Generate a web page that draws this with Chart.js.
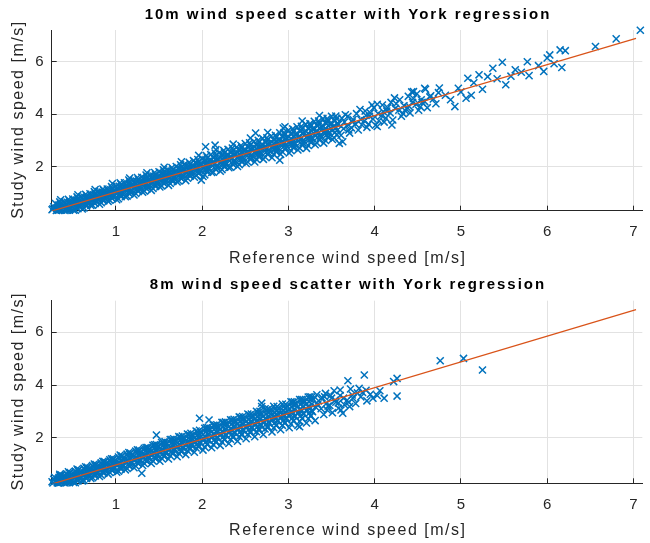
<!DOCTYPE html>
<html>
<head>
<meta charset="utf-8">
<title>Wind speed scatter with York regression</title>
<script src="https://cdn.jsdelivr.net/npm/chart.js@4.4.1/dist/chart.umd.min.js"></script>
<style>
  body { margin: 0; background: #fff; }
  canvas { position: absolute; left: 0; }
  #chart10m { top: 0; }
  #chart8m { top: 270px; }
</style>
</head>
<body>
<canvas id="chart10m" width="650" height="270"></canvas>
<canvas id="chart8m" width="650" height="273"></canvas>
<script>
'use strict';

var xTicks = [1, 2, 3, 4, 5, 6, 7];
var yTicks = [2, 4, 6];
var xLimits = [0.256, 7.103];
var yLimits10m = [0.324, 7.208];
var yLimits8m = [0.27, 7.199];

// York regression line end points (reference x, study y)
var fitX = [0.256, 7.03];
var fit10m = [0.31, 6.89];
var fit8m = [0.24, 6.86];

// [reference, study] pairs (edges and stray points)
var pts10m = [
  [0.31,0.33],[0.27,0.40],[0.34,0.36],[0.28,0.47],[0.33,0.52],[0.30,0.60],[0.26,0.36],[0.32,0.44],
  [0.41,0.33],[0.37,0.35],[0.44,0.42],[0.38,0.50],[0.43,0.58],[0.40,0.66],[0.36,0.74],[0.42,0.40],
  [0.51,0.34],[0.47,0.45],[0.54,0.53],[0.48,0.61],[0.53,0.68],[0.50,0.77],[0.46,0.40],[0.52,0.58],
  [0.61,0.39],[0.57,0.50],[0.64,0.59],[0.58,0.70],[0.63,0.77],[0.60,0.85],[0.56,0.93],[0.62,0.62],
  [0.71,0.52],[0.67,0.62],[0.74,0.73],[0.68,0.81],[0.73,0.89],[0.70,0.97],[0.66,0.55],[0.72,0.79],
  [0.81,0.57],[0.77,0.68],[0.84,0.79],[0.78,0.90],[0.83,0.97],[0.80,1.05],[0.76,1.13],[0.82,0.82],
  [0.91,0.68],[0.87,0.80],[0.94,0.91],[0.88,0.99],[0.93,1.07],[0.90,1.15],[0.86,0.75],[0.92,0.98],
  [1.01,0.74],[0.97,0.86],[1.04,0.96],[0.98,1.10],[1.03,1.17],[1.00,1.26],[0.96,1.36],[1.02,1.01],
  [1.11,0.86],[1.07,0.99],[1.14,1.11],[1.08,1.20],[1.13,1.29],[1.10,1.39],[1.06,0.92],[1.12,1.19],
  [1.21,0.92],[1.17,1.02],[1.24,1.15],[1.18,1.30],[1.23,1.38],[1.20,1.47],[1.16,1.57],[1.22,1.21],
  [1.31,1.03],[1.27,1.18],[1.34,1.30],[1.28,1.40],[1.33,1.50],[1.30,1.60],[1.26,1.10],[1.32,1.38],
  [1.41,1.10],[1.37,1.21],[1.44,1.34],[1.38,1.49],[1.43,1.57],[1.40,1.67],[1.36,1.77],[1.42,1.40],
  [1.51,1.23],[1.47,1.38],[1.54,1.50],[1.48,1.61],[1.53,1.71],[1.50,1.81],[1.46,1.30],[1.52,1.58],
  [1.61,1.29],[1.57,1.41],[1.64,1.54],[1.58,1.69],[1.63,1.77],[1.60,1.87],[1.56,1.98],[1.62,1.60],
  [1.71,1.42],[1.67,1.57],[1.74,1.69],[1.68,1.81],[1.73,1.91],[1.70,2.01],[1.66,1.49],[1.72,1.77],
  [1.81,1.47],[1.77,1.60],[1.84,1.73],[1.78,1.89],[1.83,1.98],[1.80,2.09],[1.76,2.19],[1.82,1.79],
  [1.91,1.60],[1.87,1.75],[1.94,1.89],[1.88,2.01],[1.93,2.12],[1.90,2.23],[1.86,1.68],[1.92,1.97],
  [2.01,1.63],[1.97,1.78],[2.04,1.92],[1.98,2.09],[2.03,2.19],[2.00,2.31],[1.96,2.43],[2.02,1.98],
  [2.11,1.78],[2.07,1.94],[2.14,2.09],[2.08,2.22],[2.13,2.34],[2.10,2.46],[2.06,1.86],[2.12,2.16],
  [2.21,1.83],[2.17,1.98],[2.24,2.13],[2.18,2.30],[2.23,2.41],[2.20,2.53],[2.16,2.65],[2.22,2.18],
  [2.31,1.96],[2.27,2.14],[2.34,2.29],[2.28,2.42],[2.33,2.54],[2.30,2.66],[2.26,2.04],[2.32,2.36],
  [2.41,2.01],[2.37,2.18],[2.44,2.33],[2.38,2.50],[2.43,2.61],[2.40,2.74],[2.36,2.86],[2.42,2.37],
  [2.51,2.12],[2.47,2.31],[2.54,2.47],[2.48,2.62],[2.53,2.75],[2.50,2.88],[2.46,2.21],[2.52,2.56],
  [2.61,2.18],[2.57,2.36],[2.64,2.52],[2.58,2.70],[2.63,2.82],[2.60,2.96],[2.56,3.09],[2.62,2.57],
  [2.71,2.28],[2.67,2.48],[2.74,2.65],[2.68,2.80],[2.73,2.94],[2.70,3.08],[2.66,2.37],[2.72,2.75],
  [2.81,2.34],[2.77,2.53],[2.84,2.70],[2.78,2.89],[2.83,3.02],[2.80,3.17],[2.76,3.30],[2.82,2.76],
  [2.91,2.47],[2.87,2.67],[2.94,2.85],[2.88,3.01],[2.93,3.15],[2.90,3.29],[2.86,2.56],[2.92,2.95],
  [3.01,2.52],[2.97,2.72],[3.04,2.90],[2.98,3.10],[3.03,3.24],[3.00,3.39],[2.96,3.52],[3.02,2.96],
  [3.11,2.64],[3.07,2.86],[3.14,3.05],[3.08,3.22],[3.13,3.37],[3.10,3.52],[3.06,2.74],[3.12,3.14],
  [3.21,2.70],[3.17,2.91],[3.24,3.10],[3.18,3.31],[3.23,3.46],[3.20,3.62],[3.16,3.74],[3.22,3.15],
  [3.31,2.84],[3.27,3.06],[3.34,3.25],[3.28,3.43],[3.33,3.58],[3.30,3.73],[3.26,2.94],[3.32,3.34],
  [3.41,2.90],[3.37,3.12],[3.44,3.31],[3.38,3.52],[3.43,3.67],[3.40,3.83],[3.36,3.95],[3.42,3.34],
  [3.51,3.04],[3.47,3.26],[3.54,3.45],[3.48,3.62],[3.53,3.77],[3.50,3.92],[3.46,3.14],[3.52,3.53],
  [3.61,3.20],[3.64,3.45],[3.58,3.62],[3.62,3.85],[3.66,3.98],
  [3.71,3.28],[3.68,3.55],[3.74,3.70],[3.69,3.92],[3.73,3.48],
  [3.81,3.40],[3.78,3.62],[3.84,3.80],[3.79,4.02],[3.83,4.18],
  [3.91,3.50],[3.88,3.75],[3.94,3.92],[3.89,4.12],[3.93,3.62],
  [4.01,3.58],[3.98,3.82],[4.04,4.02],[3.99,4.25],[4.03,4.38],
  [4.11,3.70],[4.08,3.95],[4.14,4.12],[4.09,4.35],[4.13,3.85],
  [4.21,3.78],[4.18,4.05],[4.24,4.22],[4.19,4.45],[4.23,4.62],
  [4.31,3.92],[4.28,4.15],[4.34,4.32],[4.29,4.55],[4.33,4.02],
  [4.41,4.05],[4.38,4.25],[4.44,4.45],[4.39,4.68],[4.43,4.85],
  [4.51,4.15],[4.48,4.38],[4.54,4.55],[4.49,4.78],[4.53,4.28],
  [4.61,4.25],[4.58,4.48],[4.64,4.66],[4.59,4.95],
  [4.71,4.40],[4.68,4.58],[4.74,4.82],
  [3.65,3.70],[3.75,3.80],[3.85,3.60],[3.95,4.05],[4.05,3.75],[4.15,4.25],[4.25,4.40],
  [4.35,4.15],[4.45,4.60],[4.55,4.45],[4.65,4.70],[3.70,3.40],[3.90,3.95],[4.10,4.10],[4.40,4.30],
  [4.82,4.72],[4.88,4.55],[5.00,4.85],[5.15,5.20],[5.25,4.95],[5.42,5.35],[5.58,5.45],
  [5.70,5.60],[5.90,5.85],[6.08,5.92],[4.75,5.00],[5.12,4.72],
  [7.08,7.20],[6.80,6.87],[6.56,6.58],[6.21,6.42],[6.15,6.45],[6.17,5.78],[6.03,6.26],
  [6.00,6.14],[5.96,5.63],[5.77,6.00],[5.79,5.47],[5.63,5.69],[5.48,5.98],[5.37,5.75],
  [5.31,5.43],[5.52,5.12],[5.21,5.50],[5.08,5.37],[4.93,4.29],[5.06,4.61],[4.97,4.99],
  [4.45,4.86],[4.58,4.99],[3.97,4.35],[4.03,3.53],[4.20,3.59],[3.63,2.95],
  [2.90,2.25],[2.04,2.76],[2.15,2.82],[2.94,3.47],[3.59,2.89],[2.62,3.28],[1.99,1.49]
];

// [reference, study] pairs filling the solid core of the 10m band
var band10m = [
  [0.33,0.34],[0.36,0.36],[0.34,0.35],[0.37,0.37],[0.35,0.38],[0.33,0.43],[0.37,0.49],[0.34,0.54],[0.36,0.60],[0.35,0.66],
  [0.43,0.34],[0.46,0.35],[0.44,0.37],[0.47,0.43],[0.45,0.48],[0.43,0.53],[0.47,0.59],[0.44,0.64],[0.46,0.70],[0.45,0.76],
  [0.53,0.34],[0.56,0.40],[0.54,0.46],[0.57,0.52],[0.55,0.57],[0.53,0.62],[0.57,0.68],[0.54,0.73],[0.56,0.79],[0.55,0.85],
  [0.63,0.43],[0.66,0.50],[0.64,0.56],[0.67,0.62],[0.65,0.67],[0.63,0.72],[0.67,0.78],[0.64,0.83],[0.66,0.89],[0.65,0.95],
  [0.73,0.53],[0.76,0.60],[0.74,0.66],[0.77,0.72],[0.75,0.77],[0.73,0.82],[0.77,0.88],[0.74,0.93],[0.76,0.99],[0.75,1.05],
  [0.83,0.63],[0.86,0.70],[0.84,0.76],[0.87,0.82],[0.85,0.87],[0.83,0.92],[0.87,0.98],[0.84,1.03],[0.86,1.09],[0.85,1.15],
  [0.93,0.72],[0.96,0.79],[0.94,0.85],[0.97,0.91],[0.95,0.96],[0.93,1.01],[0.97,1.07],[0.94,1.12],[0.96,1.18],[0.95,1.24],
  [1.03,0.78],[1.06,0.86],[1.04,0.93],[1.07,1.00],[1.05,1.06],[1.03,1.12],[1.07,1.18],[1.04,1.25],[1.06,1.32],[1.05,1.39],
  [1.13,0.88],[1.16,0.96],[1.14,1.03],[1.17,1.10],[1.15,1.16],[1.13,1.22],[1.17,1.28],[1.14,1.35],[1.16,1.42],[1.15,1.49],
  [1.23,0.98],[1.26,1.06],[1.24,1.13],[1.27,1.20],[1.25,1.26],[1.23,1.32],[1.27,1.38],[1.24,1.45],[1.26,1.52],[1.25,1.59],
  [1.33,1.07],[1.36,1.15],[1.34,1.22],[1.37,1.29],[1.35,1.35],[1.33,1.41],[1.37,1.47],[1.34,1.54],[1.36,1.61],[1.35,1.68],
  [1.43,1.17],[1.46,1.25],[1.44,1.32],[1.47,1.39],[1.45,1.45],[1.43,1.51],[1.47,1.57],[1.44,1.64],[1.46,1.71],[1.45,1.78],
  [1.53,1.27],[1.56,1.35],[1.54,1.42],[1.57,1.49],[1.55,1.55],[1.53,1.61],[1.57,1.67],[1.54,1.74],[1.56,1.81],[1.55,1.88],
  [1.63,1.36],[1.66,1.44],[1.64,1.51],[1.67,1.58],[1.65,1.64],[1.63,1.70],[1.67,1.76],[1.64,1.83],[1.66,1.90],[1.65,1.97],
  [1.73,1.46],[1.76,1.54],[1.74,1.61],[1.77,1.68],[1.75,1.74],[1.73,1.80],[1.77,1.86],[1.74,1.93],[1.76,2.00],[1.75,2.07],
  [1.83,1.56],[1.86,1.64],[1.84,1.71],[1.87,1.78],[1.85,1.84],[1.83,1.90],[1.87,1.96],[1.84,2.03],[1.86,2.10],[1.85,2.17],
  [1.93,1.66],[1.96,1.74],[1.94,1.81],[1.97,1.88],[1.95,1.94],[1.93,2.00],[1.97,2.06],[1.94,2.13],[1.96,2.20],[1.95,2.27],
  [2.03,1.69],[2.06,1.79],[2.04,1.87],[2.07,1.95],[2.05,2.03],[2.03,2.10],[2.07,2.17],[2.04,2.25],[2.06,2.34],[2.05,2.42],
  [2.13,1.79],[2.16,1.89],[2.14,1.97],[2.17,2.05],[2.15,2.13],[2.13,2.20],[2.17,2.27],[2.14,2.35],[2.16,2.44],[2.15,2.52],
  [2.23,1.89],[2.26,1.99],[2.24,2.07],[2.27,2.15],[2.25,2.23],[2.23,2.30],[2.27,2.37],[2.24,2.45],[2.26,2.54],[2.25,2.62],
  [2.33,1.98],[2.36,2.08],[2.34,2.16],[2.37,2.24],[2.35,2.32],[2.33,2.39],[2.37,2.46],[2.34,2.54],[2.36,2.63],[2.35,2.71],
  [2.43,2.08],[2.46,2.18],[2.44,2.26],[2.47,2.34],[2.45,2.42],[2.43,2.49],[2.47,2.56],[2.44,2.64],[2.46,2.73],[2.45,2.81],
  [2.53,2.18],[2.56,2.28],[2.54,2.36],[2.57,2.44],[2.55,2.52],[2.53,2.59],[2.57,2.66],[2.54,2.74],[2.56,2.83],[2.55,2.91],
  [2.63,2.28],[2.66,2.38],[2.64,2.46],[2.67,2.54],[2.65,2.62],[2.63,2.69],[2.67,2.76],[2.64,2.84],[2.66,2.93],[2.65,3.01],
  [2.73,2.37],[2.76,2.47],[2.74,2.55],[2.77,2.63],[2.75,2.71],[2.73,2.78],[2.77,2.85],[2.74,2.93],[2.76,3.02],[2.75,3.10],
  [2.83,2.47],[2.86,2.57],[2.84,2.65],[2.87,2.73],[2.85,2.81],[2.83,2.88],[2.87,2.95],[2.84,3.03],[2.86,3.12],[2.85,3.20],
  [2.93,2.57],[2.96,2.67],[2.94,2.75],[2.97,2.83],[2.95,2.91],[2.93,2.98],[2.97,3.05],[2.94,3.13],[2.96,3.22],[2.95,3.30],
  [3.03,2.61],[3.06,2.72],[3.04,2.82],[3.07,2.91],[3.05,2.99],[3.03,3.07],[3.07,3.16],[3.04,3.25],[3.06,3.34],[3.05,3.44],
  [3.13,2.71],[3.16,2.82],[3.14,2.92],[3.17,3.01],[3.15,3.09],[3.13,3.17],[3.17,3.26],[3.14,3.35],[3.16,3.44],[3.15,3.54],
  [3.23,2.81],[3.26,2.92],[3.24,3.02],[3.27,3.11],[3.25,3.19],[3.23,3.27],[3.27,3.36],[3.24,3.45],[3.26,3.54],[3.25,3.64],
  [3.33,2.91],[3.36,3.02],[3.34,3.12],[3.37,3.21],[3.35,3.29],[3.33,3.37],[3.37,3.46],[3.34,3.55],[3.36,3.64],[3.35,3.74],
  [3.43,3.00],[3.46,3.11],[3.44,3.21],[3.47,3.30],[3.45,3.38],[3.43,3.46],[3.47,3.55],[3.44,3.64],[3.46,3.73],[3.45,3.83],
  [3.53,3.10],[3.56,3.21],[3.54,3.31],[3.57,3.40],[3.55,3.48],[3.53,3.56],[3.57,3.65],[3.54,3.74],[3.56,3.83],[3.55,3.93]
];

// [reference, study] pairs (edges and stray points)
var pts8m = [
  [0.27,0.28],[0.30,0.36],[0.33,0.44],[0.29,0.50],[0.35,0.56],[0.26,0.33],[0.32,0.29],[0.28,0.42],
  [0.41,0.28],[0.38,0.35],[0.44,0.46],[0.39,0.54],[0.43,0.63],[0.36,0.31],[0.42,0.40],[0.37,0.58],
  [0.51,0.30],[0.48,0.42],[0.54,0.55],[0.49,0.63],[0.53,0.73],[0.46,0.36],[0.52,0.49],[0.47,0.68],
  [0.61,0.36],[0.58,0.49],[0.64,0.64],[0.59,0.72],[0.63,0.84],[0.56,0.43],[0.62,0.58],[0.57,0.78],
  [0.71,0.45],[0.68,0.59],[0.74,0.74],[0.69,0.83],[0.73,0.94],[0.66,0.52],[0.72,0.68],[0.67,0.88],
  [0.81,0.53],[0.78,0.68],[0.84,0.84],[0.79,0.93],[0.83,1.05],[0.76,0.61],[0.82,0.78],[0.77,0.98],
  [0.91,0.62],[0.88,0.78],[0.94,0.94],[0.89,1.03],[0.93,1.16],[0.86,0.70],[0.92,0.88],[0.87,1.09],
  [1.01,0.69],[0.98,0.87],[1.04,1.03],[0.99,1.13],[1.03,1.27],[0.96,0.78],[1.02,0.97],[0.97,1.20],
  [1.11,0.78],[1.08,0.97],[1.14,1.13],[1.09,1.24],[1.13,1.38],[1.06,0.87],[1.12,1.07],[1.07,1.31],
  [1.21,0.86],[1.18,1.06],[1.24,1.23],[1.19,1.35],[1.23,1.49],[1.16,0.95],[1.22,1.17],[1.17,1.42],
  [1.31,0.95],[1.28,1.16],[1.34,1.34],[1.29,1.45],[1.33,1.60],[1.26,1.04],[1.32,1.27],[1.27,1.53],
  [1.41,1.02],[1.38,1.24],[1.44,1.43],[1.39,1.55],[1.43,1.71],[1.36,1.12],[1.42,1.36],[1.37,1.63],
  [1.51,1.11],[1.48,1.34],[1.54,1.53],[1.49,1.66],[1.53,1.82],[1.46,1.21],[1.52,1.46],[1.47,1.74],
  [1.61,1.19],[1.58,1.43],[1.64,1.63],[1.59,1.76],[1.63,1.93],[1.56,1.30],[1.62,1.56],[1.57,1.85],
  [1.71,1.28],[1.68,1.53],[1.74,1.74],[1.69,1.87],[1.73,2.04],[1.66,1.39],[1.72,1.66],[1.67,1.96],
  [1.81,1.36],[1.78,1.61],[1.84,1.83],[1.79,1.97],[1.83,2.14],[1.76,1.47],[1.82,1.75],[1.77,2.06],
  [1.91,1.45],[1.88,1.71],[1.94,1.93],[1.89,2.07],[1.93,2.25],[1.86,1.56],[1.92,1.85],[1.87,2.17],
  [2.01,1.53],[1.98,1.80],[2.04,2.03],[1.99,2.18],[2.03,2.36],[1.96,1.65],[2.02,1.95],[1.97,2.28],
  [2.11,1.62],[2.08,1.90],[2.14,2.14],[2.09,2.29],[2.13,2.47],[2.06,1.74],[2.12,2.05],[2.07,2.39],
  [2.21,1.70],[2.18,1.99],[2.24,2.23],[2.19,2.39],[2.23,2.58],[2.16,1.83],[2.22,2.14],[2.17,2.49],
  [2.31,1.78],[2.28,2.08],[2.34,2.33],[2.29,2.49],[2.33,2.68],[2.26,1.92],[2.32,2.24],[2.27,2.60],
  [2.41,1.87],[2.38,2.18],[2.44,2.44],[2.39,2.60],[2.43,2.79],[2.36,2.01],[2.42,2.34],[2.37,2.70],
  [2.51,1.96],[2.48,2.27],[2.54,2.54],[2.49,2.71],[2.53,2.90],[2.46,2.10],[2.52,2.43],[2.47,2.80],
  [2.61,2.04],[2.58,2.36],[2.64,2.63],[2.59,2.81],[2.63,3.00],[2.56,2.19],[2.62,2.52],[2.57,2.90],
  [2.71,2.12],[2.68,2.45],[2.74,2.72],[2.69,2.90],[2.73,3.10],[2.66,2.28],[2.72,2.61],[2.67,3.00],
  [2.81,2.22],[2.78,2.55],[2.84,2.82],[2.79,3.00],[2.83,3.19],[2.76,2.38],[2.82,2.70],[2.77,3.09],
  [2.91,2.30],[2.88,2.63],[2.94,2.91],[2.89,3.09],[2.93,3.28],[2.86,2.46],[2.92,2.79],[2.87,3.18],
  [3.01,2.38],[2.98,2.72],[3.04,3.00],[2.99,3.18],[3.03,3.36],[2.96,2.55],[3.02,2.88],[2.97,3.27],
  [3.11,2.47],[3.08,2.81],[3.14,3.09],[3.09,3.27],[3.13,3.45],[3.06,2.64],[3.12,2.97],[3.07,3.36],
  [3.21,2.56],[3.18,2.90],[3.24,3.18],[3.19,3.36],[3.23,3.54],[3.16,2.73],[3.22,3.06],[3.17,3.45],
  [3.31,2.65],[3.28,2.99],[3.34,3.27],[3.29,3.45],[3.33,3.63],[3.26,2.82],[3.32,3.15],[3.27,3.54],
  [3.41,2.88],[3.38,3.10],[3.44,3.30],[3.39,3.52],[3.43,3.68],[3.46,3.20],
  [3.51,2.95],[3.48,3.22],[3.54,3.42],[3.49,3.60],[3.53,3.78],
  [3.61,3.05],[3.58,3.32],[3.64,3.50],[3.60,3.81],[3.63,2.93],
  [3.71,3.18],[3.68,3.42],[3.74,3.62],[3.69,4.16],[3.72,3.85],
  [3.82,3.87],[3.78,3.30],[3.84,3.55],[3.88,4.38],[3.86,3.72],
  [3.91,3.40],[3.95,3.65],[3.98,3.50],[4.03,3.60],[4.11,3.50],[4.06,3.78],
  [3.45,3.05],[3.55,3.35],[3.65,3.25],[3.75,3.50],[3.80,3.70],[3.50,3.50],
  [3.60,3.60],[3.70,3.35],[3.90,3.80],[3.35,3.40],[3.42,3.55],[3.58,3.12],
  [4.22,4.13],[4.26,4.25],[4.26,3.58],[4.76,4.92],[5.03,5.01],[5.25,4.57],
  [1.30,0.65],[1.97,2.74],[2.08,2.67],[2.69,3.31],[2.69,3.18],[3.13,2.42],[1.47,2.10]
];

// [reference, study] pairs filling the solid core of the 8m band
var band8m = [
  [0.33,0.28],[0.36,0.30],[0.34,0.29],[0.37,0.31],[0.35,0.33],[0.33,0.38],[0.37,0.44],[0.34,0.49],[0.36,0.55],[0.35,0.61],
  [0.43,0.29],[0.46,0.30],[0.44,0.32],[0.47,0.38],[0.45,0.43],[0.43,0.48],[0.47,0.54],[0.44,0.59],[0.46,0.65],[0.45,0.71],
  [0.53,0.29],[0.56,0.36],[0.54,0.42],[0.57,0.48],[0.55,0.53],[0.53,0.58],[0.57,0.64],[0.54,0.69],[0.56,0.75],[0.55,0.81],
  [0.63,0.38],[0.66,0.45],[0.64,0.51],[0.67,0.57],[0.65,0.62],[0.63,0.67],[0.67,0.73],[0.64,0.78],[0.66,0.84],[0.65,0.90],
  [0.73,0.48],[0.76,0.55],[0.74,0.61],[0.77,0.67],[0.75,0.72],[0.73,0.77],[0.77,0.83],[0.74,0.88],[0.76,0.94],[0.75,1.00],
  [0.83,0.58],[0.86,0.65],[0.84,0.71],[0.87,0.77],[0.85,0.82],[0.83,0.87],[0.87,0.93],[0.84,0.98],[0.86,1.04],[0.85,1.10],
  [0.93,0.68],[0.96,0.75],[0.94,0.81],[0.97,0.87],[0.95,0.92],[0.93,0.97],[0.97,1.03],[0.94,1.08],[0.96,1.14],[0.95,1.20],
  [1.03,0.73],[1.06,0.81],[1.04,0.88],[1.07,0.95],[1.05,1.01],[1.03,1.07],[1.07,1.13],[1.04,1.20],[1.06,1.27],[1.05,1.34],
  [1.13,0.83],[1.16,0.91],[1.14,0.98],[1.17,1.05],[1.15,1.11],[1.13,1.17],[1.17,1.23],[1.14,1.30],[1.16,1.37],[1.15,1.44],
  [1.23,0.93],[1.26,1.01],[1.24,1.08],[1.27,1.15],[1.25,1.21],[1.23,1.27],[1.27,1.33],[1.24,1.40],[1.26,1.47],[1.25,1.54],
  [1.33,1.02],[1.36,1.10],[1.34,1.17],[1.37,1.24],[1.35,1.30],[1.33,1.36],[1.37,1.42],[1.34,1.49],[1.36,1.56],[1.35,1.63],
  [1.43,1.12],[1.46,1.20],[1.44,1.27],[1.47,1.34],[1.45,1.40],[1.43,1.46],[1.47,1.52],[1.44,1.59],[1.46,1.66],[1.45,1.73],
  [1.53,1.22],[1.56,1.30],[1.54,1.37],[1.57,1.44],[1.55,1.50],[1.53,1.56],[1.57,1.62],[1.54,1.69],[1.56,1.76],[1.55,1.83],
  [1.63,1.32],[1.66,1.40],[1.64,1.47],[1.67,1.54],[1.65,1.60],[1.63,1.66],[1.67,1.72],[1.64,1.79],[1.66,1.86],[1.65,1.93],
  [1.73,1.41],[1.76,1.49],[1.74,1.56],[1.77,1.63],[1.75,1.69],[1.73,1.75],[1.77,1.81],[1.74,1.88],[1.76,1.95],[1.75,2.02],
  [1.83,1.51],[1.86,1.59],[1.84,1.66],[1.87,1.73],[1.85,1.79],[1.83,1.85],[1.87,1.91],[1.84,1.98],[1.86,2.05],[1.85,2.12],
  [1.93,1.61],[1.96,1.69],[1.94,1.76],[1.97,1.83],[1.95,1.89],[1.93,1.95],[1.97,2.01],[1.94,2.08],[1.96,2.15],[1.95,2.22],
  [2.03,1.65],[2.06,1.75],[2.04,1.83],[2.07,1.91],[2.05,1.99],[2.03,2.06],[2.07,2.13],[2.04,2.21],[2.06,2.30],[2.05,2.38],
  [2.13,1.74],[2.16,1.84],[2.14,1.92],[2.17,2.00],[2.15,2.08],[2.13,2.15],[2.17,2.22],[2.14,2.30],[2.16,2.39],[2.15,2.47],
  [2.23,1.84],[2.26,1.94],[2.24,2.02],[2.27,2.10],[2.25,2.18],[2.23,2.25],[2.27,2.32],[2.24,2.40],[2.26,2.49],[2.25,2.57],
  [2.33,1.94],[2.36,2.04],[2.34,2.12],[2.37,2.20],[2.35,2.28],[2.33,2.35],[2.37,2.42],[2.34,2.50],[2.36,2.59],[2.35,2.67],
  [2.43,2.04],[2.46,2.14],[2.44,2.22],[2.47,2.30],[2.45,2.38],[2.43,2.45],[2.47,2.52],[2.44,2.60],[2.46,2.69],[2.45,2.77],
  [2.53,2.13],[2.56,2.23],[2.54,2.31],[2.57,2.39],[2.55,2.47],[2.53,2.54],[2.57,2.61],[2.54,2.69],[2.56,2.78],[2.55,2.86],
  [2.63,2.23],[2.66,2.33],[2.64,2.41],[2.67,2.49],[2.65,2.57],[2.63,2.64],[2.67,2.71],[2.64,2.79],[2.66,2.88],[2.65,2.96],
  [2.73,2.33],[2.76,2.43],[2.74,2.51],[2.77,2.59],[2.75,2.67],[2.73,2.74],[2.77,2.81],[2.74,2.89],[2.76,2.98],[2.75,3.06],
  [2.83,2.38],[2.86,2.48],[2.84,2.56],[2.87,2.64],[2.85,2.72],[2.83,2.79],[2.87,2.86],[2.84,2.94],[2.86,3.03],[2.85,3.11],
  [2.93,2.47],[2.96,2.57],[2.94,2.65],[2.97,2.73],[2.95,2.81],[2.93,2.88],[2.97,2.95],[2.94,3.03],[2.96,3.12],[2.95,3.20],
  [3.03,2.52],[3.06,2.63],[3.04,2.73],[3.07,2.82],[3.05,2.90],[3.03,2.98],[3.07,3.07],[3.04,3.16],[3.06,3.25],[3.05,3.35],
  [3.13,2.62],[3.16,2.73],[3.14,2.83],[3.17,2.92],[3.15,3.00],[3.13,3.08],[3.17,3.17],[3.14,3.26],[3.16,3.35],[3.15,3.45],
  [3.23,2.72],[3.26,2.83],[3.24,2.93],[3.27,3.02],[3.25,3.10],[3.23,3.18],[3.27,3.27],[3.24,3.36],[3.26,3.45],[3.25,3.55]
];

var FONT = '"Liberation Sans", Arial, Helvetica, sans-serif';
var TEXT = '#262626';

// MATLAB look: inward ticks, spaced title and axis labels
var matlabAxes = {
  id: 'matlabAxes',
  afterDraw: function (chart, args, opts) {
    var ctx = chart.ctx;
    var area = chart.chartArea;
    var xs = chart.scales.x, ys = chart.scales.y;
    var cx = (area.left + area.right) / 2;
    ctx.save();
    ctx.strokeStyle = TEXT;
    ctx.lineWidth = 1;
    ctx.beginPath();
    xs.ticks.forEach(function (t) {
      var px = Math.round(xs.getPixelForValue(t.value) - 0.5) + 0.5;
      ctx.moveTo(px, area.bottom);
      ctx.lineTo(px, area.bottom - 5);
    });
    ys.ticks.forEach(function (t) {
      var py = Math.round(ys.getPixelForValue(t.value) - 0.5) + 0.5;
      ctx.moveTo(area.left, py);
      ctx.lineTo(area.left + 5, py);
    });
    ctx.stroke();

    ctx.textAlign = 'center';
    ctx.textBaseline = 'alphabetic';
    ctx.fillStyle = '#000';
    ctx.font = 'bold 15px ' + FONT;
    ctx.letterSpacing = '2px';
    ctx.fillText(opts.title, cx + 1, 19);

    ctx.fillStyle = TEXT;
    ctx.font = '16px ' + FONT;
    ctx.letterSpacing = '1.5px';
    ctx.fillText('Reference wind speed [m/s]', cx + 0.75, area.bottom + opts.xlabelGap);
    ctx.translate(23.3, (area.top + area.bottom) / 2);
    ctx.rotate(-Math.PI / 2);
    ctx.fillText('Study wind speed [m/s]', 0.75, 0);
    ctx.restore();
  }
};

function toPoints(pairs) {
  return pairs.map(function (p) { return {x: p[0], y: p[1]}; });
}

function makeChart(id, pts, fitY, yLimits, title, topPad, xAxisHeight, xlabelGap) {
  var ctx = document.getElementById(id).getContext('2d');
  return new Chart(ctx, {
    type: 'scatter',
    data: {
      datasets: [{
        label: 'York regression',
        data: [{x: fitX[0], y: fitY[0]}, {x: fitX[1], y: fitY[1]}],
        showLine: true,
        borderColor: '#D95319',
        borderWidth: 1.2,
        pointRadius: 0,
        order: 0
      }, {
        label: 'Data',
        data: toPoints(pts),
        pointStyle: 'crossRot',
        pointRadius: 5,
        borderWidth: 1.5,
        borderColor: '#0072BD',
        backgroundColor: '#0072BD',
        clip: false,
        order: 1
      }]
    },
    options: {
      responsive: false,
      animation: false,
      events: [],
      devicePixelRatio: 1,
      layout: {padding: {top: topPad, left: 0, right: 0, bottom: 0}},
      plugins: {
        legend: {display: false},
        tooltip: {enabled: false},
        matlabAxes: {title: title, xlabelGap: xlabelGap}
      },
      scales: {
        x: {
          type: 'linear',
          position: 'bottom',
          min: xLimits[0],
          max: xLimits[1],
          afterFit: function (s) { s.height = xAxisHeight; },
          afterBuildTicks: function (s) {
            s.ticks = xTicks.map(function (v) { return {value: v}; });
          },
          ticks: {
            includeBounds: false, autoSkip: false, maxRotation: 0,
            color: TEXT, padding: 12.3,
            font: {family: FONT, size: 15}
          },
          grid: {color: '#e2e2e2', drawTicks: false},
          border: {color: TEXT, width: 1}
        },
        y: {
          type: 'linear',
          min: yLimits[0],
          max: yLimits[1],
          afterFit: function (s) { s.width = 51.7; },
          afterBuildTicks: function (s) {
            s.ticks = yTicks.map(function (v) { return {value: v}; });
          },
          ticks: {
            includeBounds: false, autoSkip: false,
            color: TEXT, padding: 8,
            font: {family: FONT, size: 15}
          },
          grid: {color: '#e2e2e2', drawTicks: false},
          border: {color: TEXT, width: 1}
        }
      }
    },
    plugins: [matlabAxes]
  });
}

makeChart('chart10m', pts10m.concat(band10m), fit10m, yLimits10m,
  '10m wind speed scatter with York regression', 30, 59.3, 52.6);
makeChart('chart8m', pts8m.concat(band8m), fit8m, yLimits8m,
  '8m wind speed scatter with York regression', 30.7, 59.7, 51.7);
</script>
</body>
</html>
